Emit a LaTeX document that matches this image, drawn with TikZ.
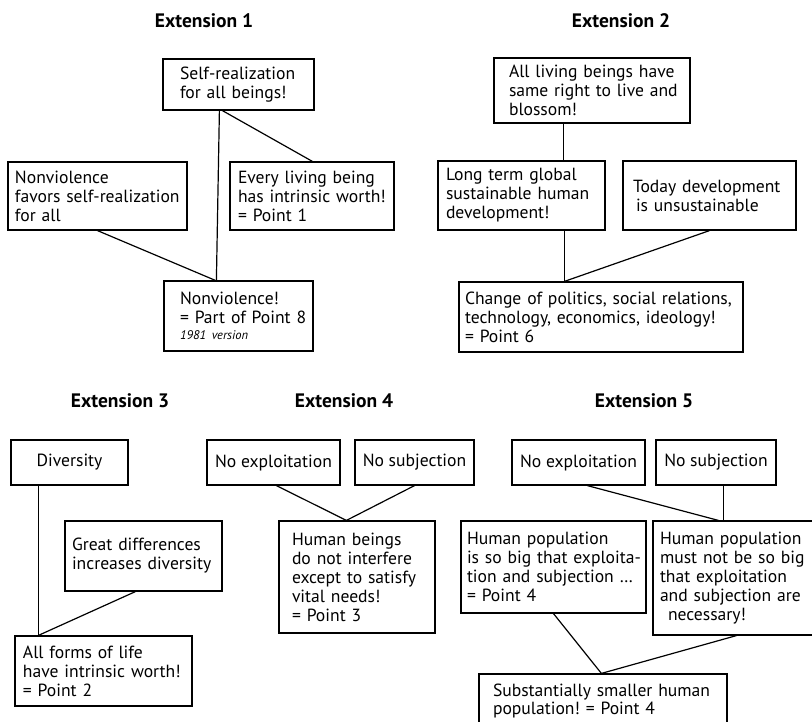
\documentclass[tikz,border=0pt]{standalone}
\usepackage{fontspec}
\setmainfont{PT Sans}
\usetikzlibrary{calc}
\frenchspacing
\newcommand\bodyfont{\fontsize{17.6}{19}\selectfont}
\newcommand\titlefont{\fontsize{19.5}{21}\selectfont\bfseries}
\tikzset{
  box/.style={draw, line width=1.2pt, inner ysep=0pt, align=left, font=\bodyfont},
  cbox/.style={draw, line width=1.2pt, inner sep=0pt, align=center, font=\bodyfont},
  title/.style={anchor=base, font=\titlefont, inner sep=0pt},
  link/.style={line width=1.2pt},
}
\begin{document}
\begin{tikzpicture}[x=1pt,y=-1pt]
\useasboundingbox (0,0) rectangle (812,721);
\fill[white] (0,0) rectangle (812,721);
\clip (0,0) rectangle (812,721);

% ---------- Extension 1
\node[title] (t1) at (204,27) {Extension 1};
\node[box, minimum width=151pt, minimum height=51pt, text width=117pt, inner xsep=17pt] (s1) at (238.5,84.5)
  {\mbox{Self-realization}\\\mbox{for all beings!}};
\node[box, minimum width=179pt, minimum height=68pt, text width=165pt, inner xsep=7pt] (n1) at (97.5,196)
  {\mbox{Nonviolence}\\\mbox{favors self-realization}\\\mbox{for all}};
\node[box, minimum width=164pt, minimum height=68pt, text width=148pt, inner xsep=8pt] (e1) at (312,196)
  {\mbox{Every living being}\\\mbox{has intrinsic worth!}\\\mbox{= Point 1}};
\node[box, minimum width=149pt, minimum height=70pt, text width=117pt, inner xsep=16pt] (v1) at (238.5,316)
  {\mbox{Nonviolence!}\\\mbox{= Part of Point 8}\\[-3pt]\mbox{\fontsize{12.5}{13}\selectfont\itshape 1981 version}};
\draw[link] ($(s1.south west)+(57,0)$) -- ($(v1.north west)+(53,0)$);
\draw[link] ($(s1.south west)+(60,0)$) -- ($(e1.north west)+(83,0)$);
\draw[link] (n1.south) -- ($(v1.north west)+(52,0)$);

% ---------- Extension 2
\node[title] (t2) at (621,27) {Extension 2};
\node[box, minimum width=196pt, minimum height=65pt, text width=166pt, inner xsep=15pt] (a2) at (592,90.5)
  {\mbox{All living beings have}\\\mbox{same right to live and}\\\mbox{blossom!}};
\node[box, minimum width=167pt, minimum height=69pt, text width=151pt, inner xsep=8pt] (l2) at (521.5,195.5)
  {\mbox{Long term global}\\\mbox{sustainable human}\\\mbox{development!}};
\node[box, minimum width=173pt, minimum height=69pt, text width=153pt, inner xsep=10pt] (d2) at (709.5,195.5)
  {\mbox{Today development}\\\hspace*{3pt}\mbox{is unsustainable}};
\node[box, minimum width=284pt, minimum height=70pt, text width=272pt, inner xsep=6pt] (c2) at (601,317)
  {\mbox{Change of politics, social relations,}\\\mbox{technology, economics, ideology!}\\\mbox{= Point 6}};
\draw[link] ($(a2.south west)+(70,0)$) -- ($(l2.north west)+(126,0)$);
\draw[link] ($(l2.south west)+(127,0)$) -- ($(c2.north west)+(106,0)$);
\draw[link] (d2.south) -- ($(c2.north west)+(106,0)$);

% ---------- Extension 3
\node[title] (t3) at (120,407) {Extension 3};
\node[cbox, minimum width=117pt, minimum height=45pt] (d3) at (69.5,462.5) {Diversity};
\node[box, minimum width=157pt, minimum height=70pt, text width=143pt, inner xsep=7pt] (g3) at (143.5,556)
  {\mbox{Great differences}\\\mbox{increases diversity}};
\node[box, minimum width=177pt, minimum height=70pt, text width=161pt, inner xsep=8pt] (f3) at (103.5,671)
  {\mbox{All forms of life}\\\mbox{have intrinsic worth!}\\\mbox{= Point 2}};
\draw[link] ($(d3.south west)+(28,0)$) -- ($(f3.north west)+(24,0)$);
\draw[link] ($(g3.south west)+(71,0)$) -- ($(f3.north west)+(24,0)$);

% ---------- Extension 4
\node[title] (t4) at (344,407) {Extension 4};
\node[cbox, minimum width=133pt, minimum height=45pt] (x4) at (273.5,462.5) {No exploitation};
\node[cbox, minimum width=119pt, minimum height=45pt] (j4) at (414.5,462.5) {No subjection};
\node[box, minimum width=156pt, minimum height=112pt, text width=130pt, inner xsep=13pt] (h4) at (357,577)
  {\mbox{Human beings}\\\mbox{do not interfere}\\\mbox{except to satisfy}\\\mbox{vital needs!}\\\mbox{= Point 3}};
\draw[link] ($(x4.south west)+(70,0)$) -- ($(h4.north west)+(68,0)$);
\draw[link] (j4.south) -- ($(h4.north west)+(68,0)$);

% ---------- Extension 5
\node[title] (t5) at (644,407) {Extension 5};
\node[cbox, minimum width=133pt, minimum height=45pt] (x5) at (578.5,462.5) {No exploitation};
\node[cbox, minimum width=120pt, minimum height=45pt] (j5) at (716,462.5) {No subjection};
\node[box, minimum width=185pt, minimum height=92pt, text width=173pt, inner xsep=6pt] (p5) at (553.5,567)
  {\mbox{Human population}\\\mbox{is so big that exploita-}\\\mbox{tion and subjection \ldots}\\\mbox{= Point 4}};
\node[box, minimum width=165pt, minimum height=114pt, text width=151pt, inner xsep=7pt] (q5) at (735.5,578)
  {\mbox{Human population}\\\mbox{must not be so big}\\\mbox{that exploitation}\\\mbox{and subjection are}\\\hspace*{8pt}\mbox{necessary!}};
\node[box, minimum width=248pt, minimum height=54pt, text width=220pt, inner xsep=14pt] (s5) at (603,701)
  {\mbox{Substantially smaller human}\\[-1pt]\mbox{population! = Point 4}};
\draw[link] ($(x5.south west)+(76,0)$) -- ($(q5.north west)+(66,0)$);
\draw[link] ($(j5.south west)+(68,0)$) -- ($(q5.north west)+(71,0)$);
\draw[link] (p5.south) -- ($(s5.north west)+(123,0)$);
\draw[link] ($(q5.south west)+(84,0)$) -- ($(s5.north west)+(123,0)$);
\end{tikzpicture}
\end{document}
